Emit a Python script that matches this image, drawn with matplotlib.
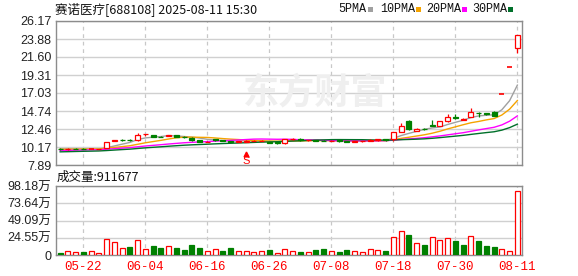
import numpy as np
import pandas as pd
import matplotlib
matplotlib.use('Agg')
from matplotlib import pyplot as plt
from matplotlib.patches import Rectangle

plt.rcParams['font.family'] = ['Liberation Sans', 'Noto Sans CJK SC']

TITLE = '赛诺医疗[688108] 2025-08-11 15:30'

# trading days shown (2025)
DATES = ['05-19', '05-20', '05-21', '05-22', '05-23', '05-26', '05-27', '05-28', '05-29', '05-30',
         '06-03', '06-04', '06-05', '06-06', '06-09', '06-10', '06-11', '06-12', '06-13', '06-16',
         '06-17', '06-18', '06-19', '06-20', '06-23', '06-24', '06-25', '06-26', '06-27', '06-30',
         '07-01', '07-02', '07-03', '07-04', '07-07', '07-08', '07-09', '07-10', '07-11', '07-14',
         '07-15', '07-16', '07-17', '07-18', '07-21', '07-22', '07-23', '07-24', '07-25', '07-28',
         '07-29', '07-30', '07-31', '08-01', '08-04', '08-05', '08-06', '08-07', '08-08', '08-11']

OPEN = [9.95, 9.87, 9.98, 9.96, 9.92, 9.90, 10.08, 10.98, 11.08, 11.08,
        11.05, 11.78, 11.66, 11.50, 11.60, 11.66, 11.50, 11.36, 11.06, 10.82,
        11.13, 11.05, 10.95, 10.85, 10.84, 10.95, 10.95, 10.78, 10.76, 10.65,
        11.18, 11.25, 11.02, 11.06, 11.00, 10.95, 11.02, 10.90, 10.85, 10.88,
        10.98, 11.02, 11.15, 11.22, 12.10, 13.50, 12.20, 12.50, 12.92, 12.90,
        13.47, 14.00, 13.60, 13.98, 14.55, 14.45, 14.65, 16.93, 20.32, 22.68]
HIGH = [10.00, 10.00, 10.05, 10.02, 9.94, 9.96, 10.85, 11.10, 11.18, 11.18,
        11.96, 11.82, 11.70, 11.58, 11.75, 11.70, 11.55, 11.45, 11.10, 10.90,
        11.20, 11.10, 11.00, 10.95, 11.05, 11.05, 11.05, 10.82, 10.78, 11.25,
        11.30, 11.30, 11.10, 11.12, 11.05, 11.05, 11.05, 10.95, 10.95, 11.00,
        11.20, 11.25, 11.22, 12.10, 13.20, 13.56, 12.65, 12.60, 13.56, 13.50,
        14.32, 14.40, 13.80, 15.16, 14.56, 14.55, 14.70, 16.93, 20.32, 24.38]
LOW = [9.85, 9.84, 9.86, 9.86, 9.90, 9.86, 10.02, 10.88, 10.96, 10.98,
       11.00, 11.52, 11.42, 11.40, 11.52, 11.45, 11.32, 11.00, 10.80, 10.76,
       10.95, 10.95, 10.75, 10.80, 10.80, 10.92, 10.90, 10.68, 10.60, 10.60,
       11.10, 10.98, 10.95, 10.96, 10.90, 10.90, 10.85, 10.80, 10.82, 10.85,
       10.90, 11.00, 11.00, 11.00, 12.05, 12.35, 12.15, 12.38, 12.88, 12.85,
       13.40, 13.75, 13.55, 13.95, 13.98, 14.30, 14.10, 16.93, 20.32, 22.10]
CLOSE = [9.88, 9.90, 9.93, 9.92, 9.92, 9.93, 10.75, 11.02, 11.05, 11.03,
         11.75, 11.80, 11.48, 11.45, 11.65, 11.50, 11.45, 11.08, 10.85, 10.86,
         11.10, 11.00, 10.82, 10.90, 10.98, 10.99, 11.00, 10.72, 10.72, 11.18,
         11.22, 11.02, 11.04, 11.00, 10.95, 11.00, 10.88, 10.85, 10.90, 10.95,
         11.02, 11.15, 11.10, 12.05, 12.82, 12.40, 12.43, 12.42, 12.90, 13.43,
         13.98, 13.80, 13.75, 14.57, 14.50, 14.40, 14.11, 16.93, 20.32, 24.38]
# volume in 万
VOLUME = [3.4, 5.9, 4.4, 4.9, 5.9, 2.9, 23.0, 19.0, 10.3, 11.8,
          22.0, 8.8, 13.2, 10.3, 12.7, 9.3, 7.3, 14.7, 10.3, 5.9,
          8.3, 5.9, 10.3, 5.9, 5.9, 4.4, 5.9, 7.3, 3.4, 8.3,
          5.9, 4.9, 4.4, 7.3, 8.8, 5.9, 4.4, 7.3, 5.9, 4.4,
          8.3, 7.3, 5.9, 26.0, 34.5, 29.0, 17.2, 14.7, 26.0, 22.0,
          24.5, 20.6, 14.7, 27.4, 20.6, 13.2, 11.8, 8.3, 5.4, 91.17]
LAST_VOL = 911677

# closes before 05-19, only needed to start the moving averages
PREV_CLOSE = [9.25, 9.18, 9.22, 9.30, 9.27, 9.20, 9.15, 9.24, 9.31, 9.28,
              9.35, 9.42, 9.50, 9.48, 9.55, 9.60, 9.58, 9.66, 9.70, 9.72,
              9.80, 9.85, 9.78, 9.88, 9.92, 9.86, 9.95, 9.98, 9.93]

MA_DAYS = [5, 10, 20, 30]
MA_NAMES = ['5PMA', '10PMA', '20PMA', '30PMA']
MA_COLORS = ['#a0a0a0', '#f5a300', '#ff00ff', '#00702a']

PRICE_TICKS = [7.89, 10.17, 12.46, 14.74, 17.03, 19.31, 21.60, 23.88, 26.17]
VOL_TICKS = [0, 24.55, 49.09, 73.64, 98.18]
DATE_TICKS = ['05-22', '06-04', '06-16', '06-26', '07-08', '07-18', '07-30', '08-11']
SELL_DATE = '06-23'

RED = '#ff0000'
GREEN = '#008000'
W = 578
H = 276

n = len(CLOSE)
x = np.arange(n)
all_close = pd.Series(PREV_CLOSE + CLOSE)

fig = plt.figure(figsize=(W / 100, H / 100), dpi=100)
ax1 = fig.add_axes([55.5 / W, 1 - 165 / H, 466.5 / W, 144 / H])
ax2 = fig.add_axes([55.5 / W, 1 - 255 / H, 466.5 / W, 69 / H])

tick_idx = [DATES.index(d) for d in DATE_TICKS]

for ax in (ax1, ax2):
    ax.set_xlim(-0.6, n - 0.4)
    for s in ax.spines.values():
        s.set_color('#8c8c8c')
        s.set_linewidth(1)
    ax.tick_params(length=0)
    ax.grid(axis='y', color='#d0d0d0', lw=1, ls='-')
    for t in tick_idx:
        ax.axvline(t, color='#c8c8c8', lw=0.9, ls=(0, (3, 3)), zorder=0)
    ax.set_axisbelow(True)

# watermark
fig.text(315 / W, 1 - 93 / H, '东方财富', fontsize=26, color='#efefef',
         ha='center', va='center', fontweight='bold', family=['Noto Sans CJK SC'], zorder=0)

# candles
bw = 0.64
for i in range(n):
    o, h, l, c = OPEN[i], HIGH[i], LOW[i], CLOSE[i]
    prev = CLOSE[i - 1] if i > 0 else o
    if c > o:
        ax1.vlines(i, c, h, color=RED, lw=0.9, zorder=3)
        ax1.vlines(i, l, o, color=RED, lw=0.9, zorder=3)
        ax1.add_patch(Rectangle((i - bw / 2, o), bw, c - o, fc='white', ec=RED, lw=0.9, zorder=3))
    elif c < o:
        ax1.vlines(i, l, h, color=GREEN, lw=0.9, zorder=3)
        ax1.add_patch(Rectangle((i - bw / 2, c), bw, o - c, fc=GREEN, ec=GREEN, lw=0.9, zorder=3))
    else:
        col = RED if c >= prev else GREEN
        ax1.vlines(i, l, h, color=col, lw=0.9, zorder=3)
        ax1.hlines(c, i - bw / 2, i + bw / 2, color=col, lw=1.2, zorder=3)

# moving averages
for days, col in zip(MA_DAYS, MA_COLORS):
    ma = all_close.rolling(days).mean().values[-n:]
    ax1.plot(x, ma, color=col, lw=1.0, zorder=2)

# sell marker
si = DATES.index(SELL_DATE)
ax1.plot(si, LOW[si] - 1.5, marker='^', color=RED, ms=3.5, zorder=4)
ax1.text(si, LOW[si] - 2.45, 'S', color=RED, fontsize=8, ha='center', va='center', zorder=4)

ax1.set_ylim(PRICE_TICKS[0], PRICE_TICKS[-1])
ax1.set_yticks(PRICE_TICKS)
ax1.set_yticklabels(['%.2f' % v for v in PRICE_TICKS], fontsize=9, color='#222222')
ax1.set_xticks([])
ax1.tick_params(axis='y', pad=3)

# volume
for i in range(n):
    prev = CLOSE[i - 1] if i > 0 else OPEN[i]
    if CLOSE[i] >= prev:
        ax2.add_patch(Rectangle((i - bw / 2, 0), bw, VOLUME[i], fc='white', ec=RED, lw=0.9, zorder=3))
    else:
        ax2.add_patch(Rectangle((i - bw / 2, 0), bw, VOLUME[i], fc=GREEN, ec=GREEN, lw=0.9, zorder=3))

ax2.set_ylim(VOL_TICKS[0], VOL_TICKS[-1])
ax2.set_yticks(VOL_TICKS)
ax2.set_yticklabels(['0'] + ['%.2f万' % v for v in VOL_TICKS[1:]], fontsize=9, color='#222222')
ax2.tick_params(axis='y', pad=3)
ax2.set_xticks(tick_idx)
ax2.set_xticklabels(DATE_TICKS, fontsize=9, color=RED, family=['Liberation Mono'])
ax2.tick_params(axis='x', pad=4)

# title, volume caption
fig.text(55 / W, 1 - 9 / H, TITLE, fontsize=9, color='#111111', va='center',
         family=['Noto Sans CJK SC', 'DejaVu Sans'])
fig.text(57 / W, 1 - 177 / H, '成交量:%d' % LAST_VOL, fontsize=9, color='#111111', va='center',
         family=['Noto Sans CJK SC', 'DejaVu Sans'])

# legend
lx = [338, 380, 426, 472]
for name, col, xx in zip(MA_NAMES, MA_COLORS, lx):
    fig.text(xx / W, 1 - 9 / H, name, fontsize=8.5, color='#111111', va='center',
             family=['Liberation Mono'])
    sq_x = xx + 6.2 * len(name) + 5
    fig.patches.append(Rectangle((sq_x / W, 1 - 12 / H), 5 / W, 5 / H, transform=fig.transFigure,
                                 fc=col, ec='none'))

fig.savefig('out.png', dpi=100)
